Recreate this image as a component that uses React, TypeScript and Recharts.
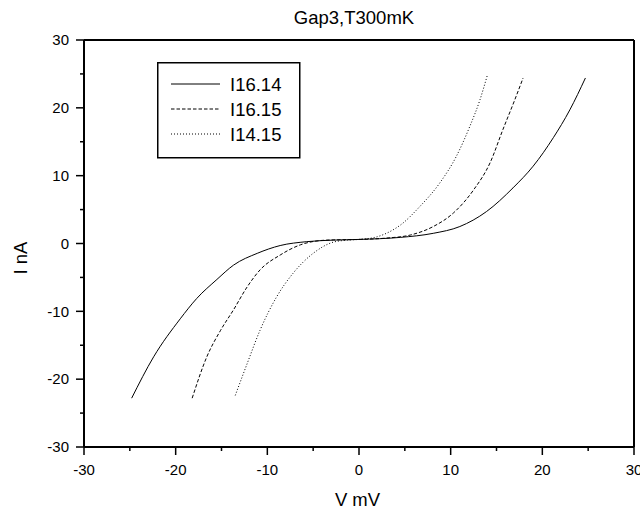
import { LineChart, Line, XAxis, YAxis, Legend, Label } from "recharts";

// I-V curves, V in mV, I in nA
const vI1614 = [-24.8, -22.4, -19.5, -17.7, -15.5, -13.7, -11.1, -8.6, -5.7, -2.8, 0, 4.5, 8.1, 11.0, 13.9, 16.8, 19.0, 21.2, 23.0, 24.7];
const iI1614 = [-22.8, -16.7, -11.1, -8.1, -5.3, -3.2, -1.45, -0.3, 0.27, 0.5, 0.6, 0.9, 1.5, 2.5, 4.7, 8.2, 11.4, 15.6, 19.7, 24.4];

const vI1615 = [-18.2, -16.6, -15.1, -13.7, -12.2, -10.8, -8.6, -6.4, -3.5, 0, 3.0, 5.6, 8.1, 10.3, 12.5, 14.3, 15.7, 17.0, 17.9];
const iI1615 = [-22.8, -16.7, -12.8, -9.8, -6.4, -3.9, -1.7, -0.2, 0.5, 0.6, 0.8, 1.25, 2.5, 4.5, 7.9, 11.9, 16.8, 21.2, 24.4];

const vI1415 = [-13.5, -12.2, -10.8, -9.0, -7.2, -5.0, -2.8, -1.2, 0, 2.0, 3.7, 4.5, 6.6, 8.8, 10.6, 12.1, 13.2, 14.0];
const iI1415 = [-22.4, -17.7, -12.8, -7.9, -4.4, -1.45, 0.2, 0.5, 0.6, 1.0, 2.0, 2.7, 5.4, 8.9, 12.8, 17.3, 21.2, 24.8];

const axisTicks = [-30, -25, -20, -15, -10, -5, 0, 5, 10, 15, 20, 25, 30];

const seriesNames = ["I16.14", "I16.15", "I14.15"];
const seriesDash = ["", "3.5 2", "1 2"];

const toPoints = (v: number[], i: number[]) => v.map((x, k) => ({ v: x, i: i[k] }));

const FONT = "'Liberation Sans', Arial, sans-serif";
const TS = 8;
const TM_X = 9;
const TM_Y = 7;

const BottomTick = (props: any) => {
  const { x, y, payload } = props;
  const val = payload.value;
  const major = val % 10 === 0;
  const y0 = y - TS - TM_X;
  return (
    <g>
      <line x1={x} x2={x} y1={y0} y2={y0 + (major ? TS : 4)} stroke="#000" strokeWidth={1.5} />
      {major && (
        <text x={x} y={y} dy="0.71em" textAnchor="middle" fontSize={15} fontFamily={FONT} fill="#000">
          {val}
        </text>
      )}
    </g>
  );
};

const LeftTick = (props: any) => {
  const { x, y, payload } = props;
  const val = payload.value;
  const major = val % 10 === 0;
  const x0 = x + TS + TM_Y;
  return (
    <g>
      <line x1={x0 - (major ? TS : 4)} x2={x0} y1={y} y2={y} stroke="#000" strokeWidth={1.5} />
      {major && (
        <text x={x} y={y} dy="0.355em" textAnchor="end" fontSize={15} fontFamily={FONT} fill="#000">
          {val}
        </text>
      )}
    </g>
  );
};

const LegendBox = () => (
  <svg width={144} height={97} style={{ display: "block" }}>
    <rect x={0.75} y={0.75} width={142} height={95} fill="#fff" stroke="#000" strokeWidth={1.5} />
    {seriesNames.map((name, k) => (
      <g key={name}>
        <line x1={14} x2={63} y1={22 + k * 25} y2={22 + k * 25} stroke="#000" strokeWidth={1} strokeDasharray={seriesDash[k]} />
        <text x={73} y={22 + k * 25} dy="0.355em" fontSize={18.5} fontFamily={FONT} fill="#000">
          {name}
        </text>
      </g>
    ))}
  </svg>
);

export default function App() {
  const series = [toPoints(vI1614, iI1614), toPoints(vI1615, iI1615), toPoints(vI1415, iI1415)];
  return (
    <div style={{ position: "absolute", left: 0, top: 0, width: 640, height: 511, background: "#fff" }}>
      <LineChart width={640} height={511} margin={{ top: 39, right: 5, bottom: 0, left: 0 }}>
        <XAxis
          dataKey="v"
          type="number"
          domain={[-30, 30]}
          ticks={axisTicks}
          interval={0}
          allowDataOverflow
          height={64}
          tickSize={TS}
          tickMargin={TM_X}
          tickLine={false}
          tick={<BottomTick />}
          axisLine={{ stroke: "#000", strokeWidth: 2 }}
        >
          <Label
            content={() => (
              <text x={357.5} y={505.5} textAnchor="middle" fontSize={18.5} fontFamily={FONT} fill="#000">
                V mV
              </text>
            )}
          />
        </XAxis>
        {/* frame: top axis with inward ticks */}
        <XAxis
          xAxisId="top"
          orientation="top"
          type="number"
          domain={[-30, 30]}
          ticks={axisTicks}
          interval={0}
          allowDataOverflow
          height={1}
          tick={false}
          tickSize={-4}
          tickLine={{ stroke: "#000", strokeWidth: 1.5 }}
          axisLine={{ stroke: "#000", strokeWidth: 2 }}
        >
          <Label
            content={() => (
              <text x={354} y={24} textAnchor="middle" fontSize={18.5} fontFamily={FONT} fill="#000">
                Gap3,T300mK
              </text>
            )}
          />
        </XAxis>
        <YAxis
          dataKey="i"
          type="number"
          domain={[-30, 30]}
          ticks={axisTicks}
          interval={0}
          allowDataOverflow
          width={84}
          tickSize={TS}
          tickMargin={TM_Y}
          tickLine={false}
          tick={<LeftTick />}
          axisLine={{ stroke: "#000", strokeWidth: 2 }}
        >
          <Label
            content={() => (
              <text
                x={27}
                y={258}
                transform="rotate(-90 27 258)"
                textAnchor="middle"
                fontSize={18.5}
                fontFamily={FONT}
                fill="#000"
              >
                I nA
              </text>
            )}
          />
        </YAxis>
        {/* frame: right axis with inward ticks */}
        <YAxis
          yAxisId="right"
          orientation="right"
          type="number"
          domain={[-30, 30]}
          ticks={axisTicks}
          interval={0}
          allowDataOverflow
          width={1}
          tick={false}
          tickSize={-4}
          tickLine={{ stroke: "#000", strokeWidth: 1.5 }}
          axisLine={{ stroke: "#000", strokeWidth: 2 }}
        />
        <Legend
          layout="vertical"
          align="center"
          verticalAlign="middle"
          wrapperStyle={{ left: 157, top: 62, width: 144, height: 97 }}
          content={() => <LegendBox />}
        />
        {series.map((pts, k) => (
          <Line
            key={seriesNames[k]}
            data={pts}
            dataKey="i"
            name={seriesNames[k]}
            type="monotone"
            stroke="#000"
            strokeWidth={1}
            strokeDasharray={seriesDash[k] || undefined}
            dot={false}
            activeDot={false}
            isAnimationActive={false}
          />
        ))}
      </LineChart>
    </div>
  );
}
